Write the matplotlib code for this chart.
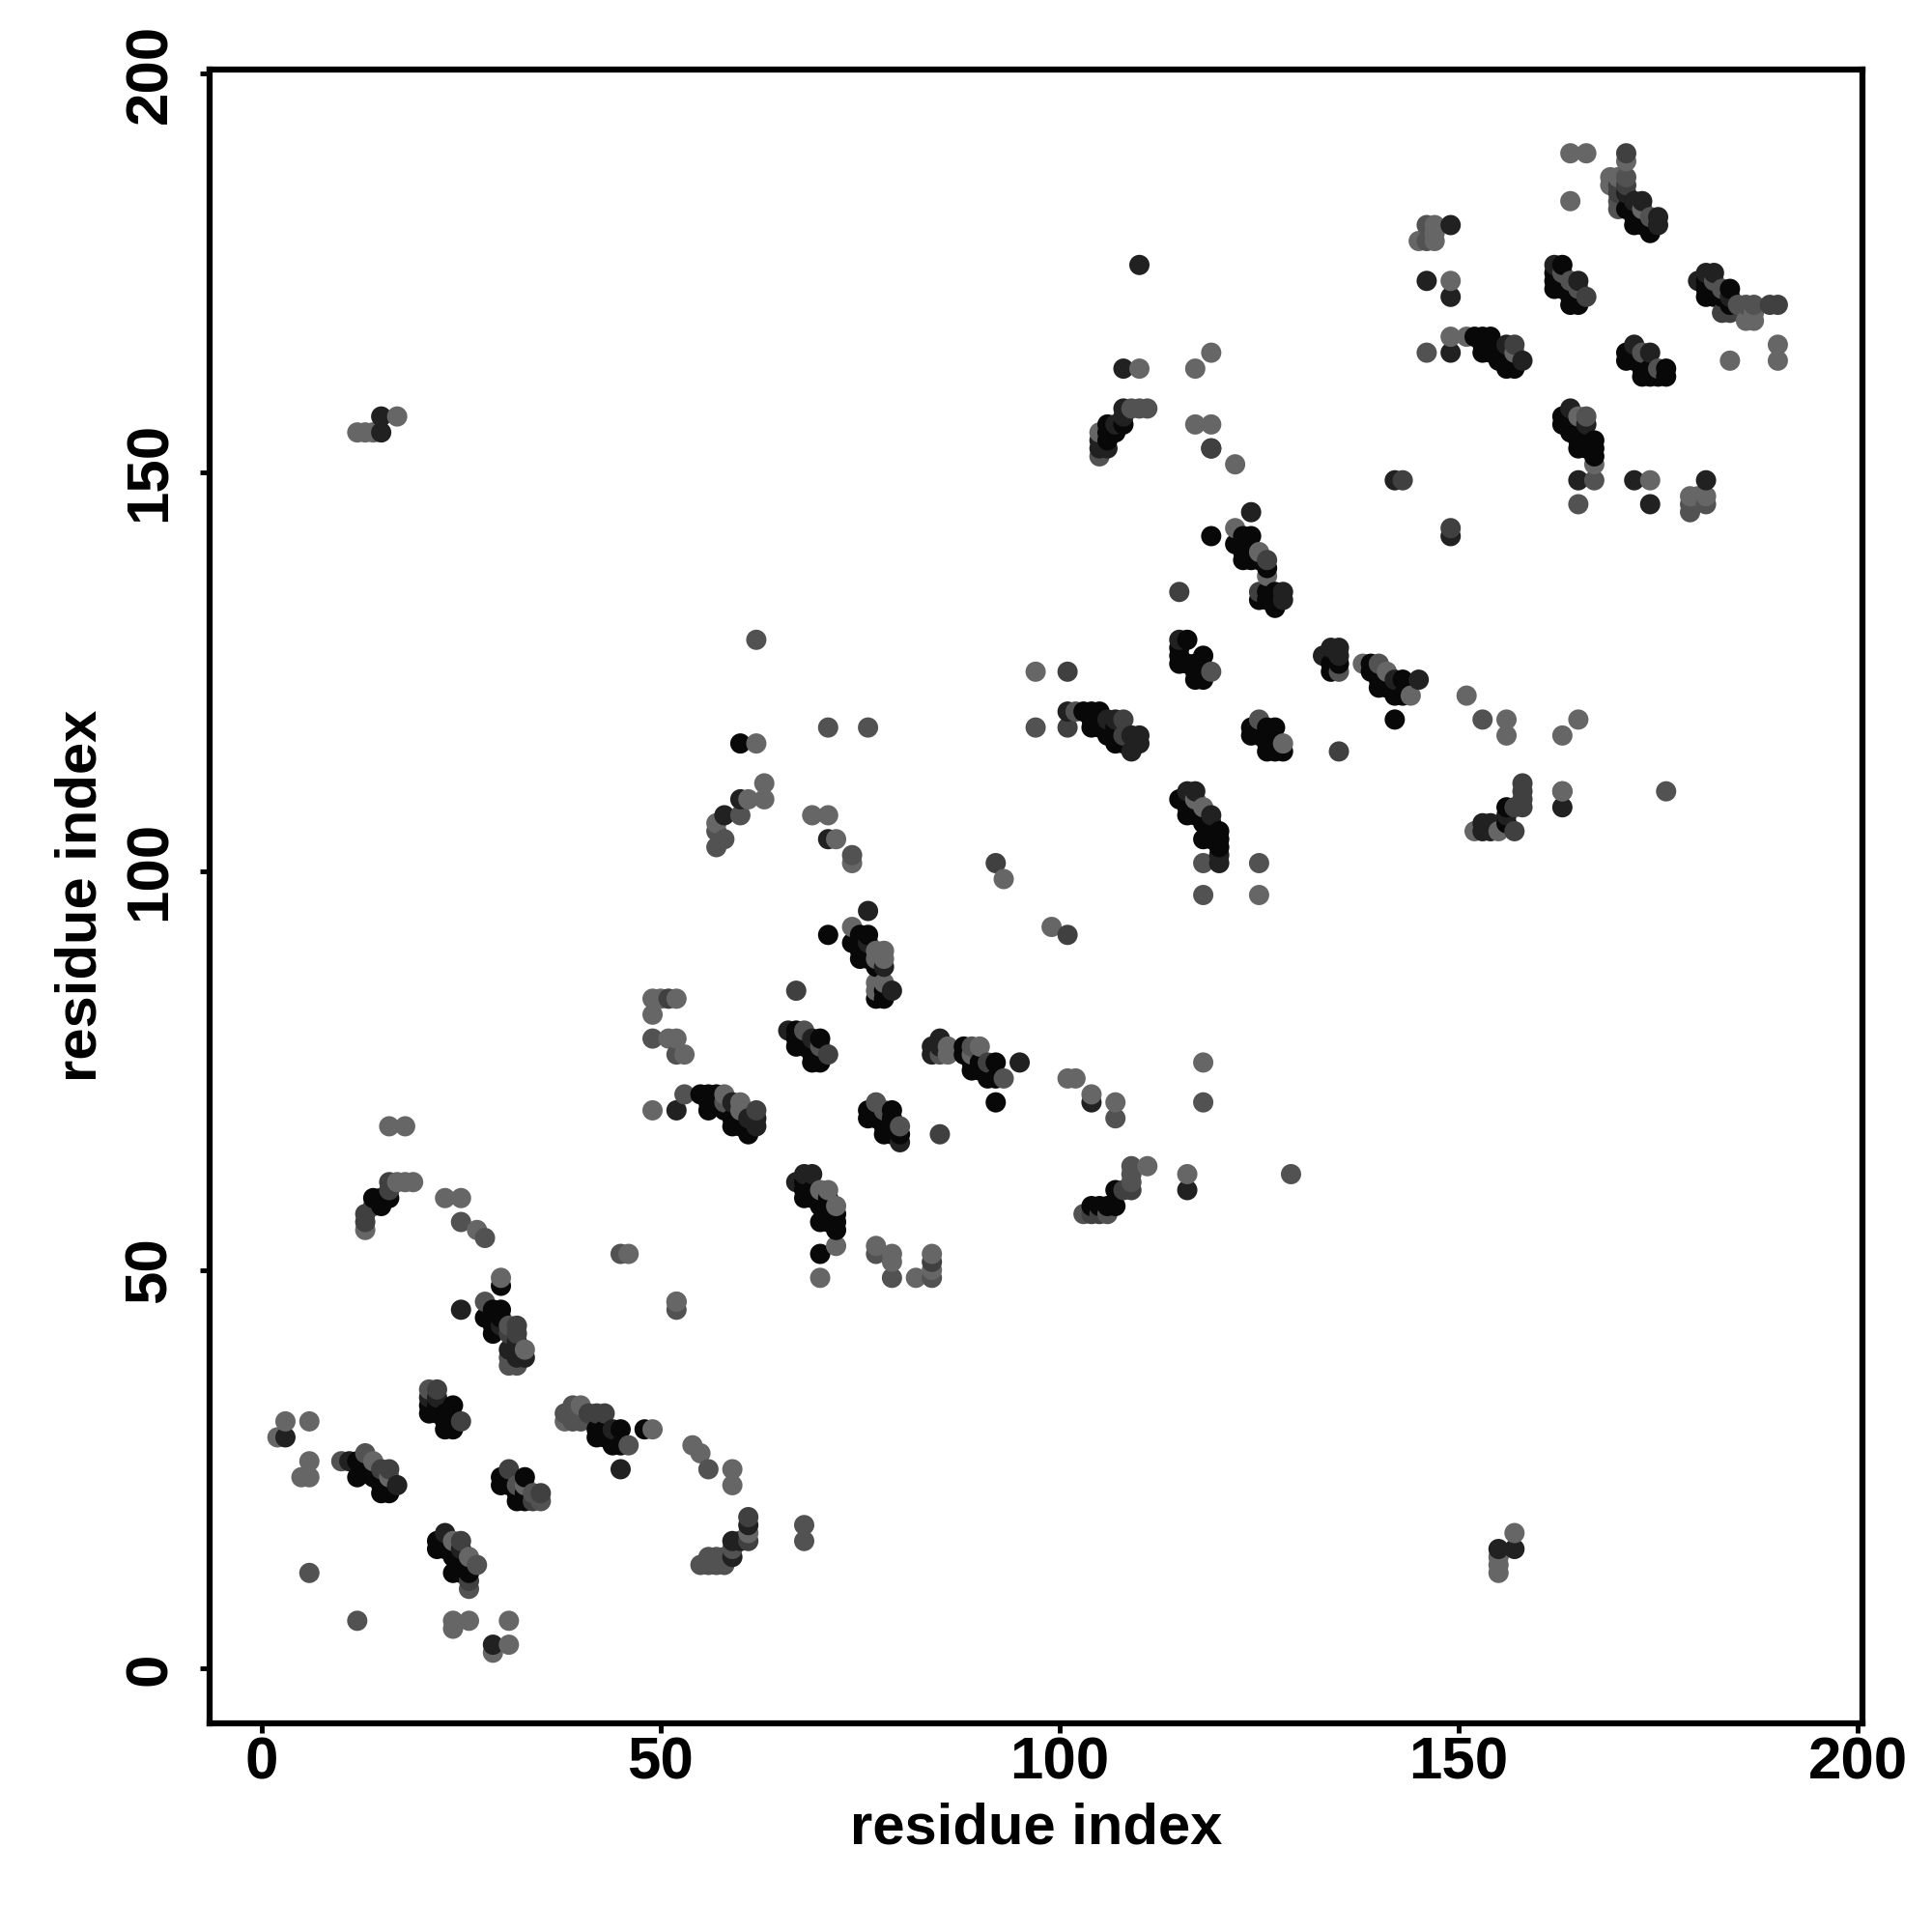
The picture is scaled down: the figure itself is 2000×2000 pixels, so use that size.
import numpy as np
import matplotlib
matplotlib.use("Agg")
import matplotlib.pyplot as plt

plt.rcParams['font.family'] = ['Liberation Sans', 'DejaVu Sans']

# contacts, (residue, residue), one list per grey level
black = [(12,26),(12,24),(13,25),(14,24),(15,23),(15,22),(16,22),(14,25),
         (21,33),(21,32),(22,32),(24,33),(23,31),(23,30),(24,30),(22,33),(23,32),
         (30,48),(30,45),(29,45),(28,44),(29,44),(29,43),(29,42),(30,44),
         (42,30),(42,29),(43,29),(43,30),(45,30),(44,28),(45,28),(44,29),(48,30),
         (22,16),(22,15),(23,15),(23,16),(24,14),(24,15),(24,12),(25,12),(26,12),(25,13),(25,14),
         (30,24),(30,23),(33,24),(31,23),(31,24),(32,22),(32,21),(33,21),(33,22),
         (71,92),(75,92),(76,92),(74,91),(75,91),(75,90),(75,89),(76,90),(76,89),(77,88),(77,84),(78,84),(78,85),
         (67,80),(67,79),(70,79),(67,78),(68,79),(68,78),(69,77),(70,77),(69,76),(70,76),
         (88,77),(89,76),(90,76),(89,75),(90,75),(92,76),(91,74),(92,74),(88,78),(92,71),(70,52),
         (55,72),(56,72),(57,72),(57,71),(56,71),(56,70),(58,70),(59,69),(59,68),(60,69),(60,68),(61,68),(61,67),
         (76,70),(76,69),(77,70),(77,69),(79,70),(78,69),(79,69),(78,68),(79,68),(78,67),(79,67),(80,67),
         (68,61),(68,60),(68,59),(69,59),(69,60),(70,59),(70,58),(71,59),(70,56),(71,57),(71,58),(72,57),(72,56),(72,55),(71,56),
         (14,59),(15,59),(16,59),(15,58),
         (104,58),(106,58),(107,58),(107,60),(105,58),
         (106,154),(106,156),(106,155),(108,156),(107,155),
         (119,142),(123,142),(124,142),(122,141),(123,141),(123,140),(124,140),(123,139),(124,139),(125,139),(126,138),
         (125,134),(126,135),(127,135),(127,134),(127,133),(126,134),
         (116,129),(115,128),(115,127),(115,126),(116,126),(118,127),(117,126),(117,124),(118,124),(117,125),(118,125),
         (103,120),(104,120),(105,120),(104,119),(105,119),(104,118),(107,116),(107,117),(108,116),(105,118),(106,117),(107,118),
         (134,126),(134,125),(135,126),(139,126),(139,125),(140,124),(140,123),(141,124),(143,124),(142,122),(143,122),(141,123),(142,119),
         (124,118),(124,117),(127,118),(126,118),(126,117),(125,117),(126,116),(126,115),(127,115),(128,115),(127,116),
         (115,109),(116,109),(116,108),(116,107),(117,107),(117,108),(118,106),(118,104),(119,105),(120,105),(119,104),(120,104),(120,103),(119,106),
         (156,106),(156,108),
         (171,183),(172,183),(172,182),(172,181),(173,182),(173,181),(174,181),(174,180),(173,183),
         (162,175),(162,174),(162,173),(163,176),(163,174),(163,173),(164,173),(164,172),(165,172),(164,171),(165,171),
         (181,174),(181,173),(181,172),(182,173),(182,172),(183,172),(184,173),(184,171),
         (152,167),(153,167),(154,167),(153,166),(154,166),(153,165),(154,165),(155,165),(155,164),(156,164),(156,163),(157,163),
         (171,165),(171,164),(172,165),(172,164),(173,164),(173,163),(174,163),(173,162),(174,162),(175,162),(176,163),(176,162),
         (163,157),(163,156),(164,156),(164,155),(165,156),(165,155),(165,154),(165,153),(166,154),(166,153),(167,154),(167,153),(167,152),
         (60,116)]

dark = [(3,29),(11,26),(17,23),(21,34),(22,34),(25,45),(30,43),(32,41),(32,39),(31,40),(33,39),(45,25),(44,30),
        (23,17),(25,15),(29,3),(59,14),(59,16),(60,16),(61,18),
        (76,95),(76,91),(78,88),(79,85),(66,80),(69,79),(84,78),(84,77),(85,79),(85,78),(95,76),(104,71),
        (52,70),(59,71),(62,69),(62,68),(61,69),(80,66),(68,62),(69,62),(67,61),
        (105,154),(105,153),(106,153),(107,156),(108,163),(108,157),(108,158),(110,176),
        (124,145),(128,135),(128,134),(115,129),(101,120),(106,119),(107,119),(110,117),(110,116),(109,115),(109,117),
        (133,127),(134,128),(135,128),(135,127),(142,124),(145,124),
        (116,110),(117,110),(119,107),(120,101),(120,102),(153,106),(153,105),(154,106),(154,105),(156,107),(163,108),
        (142,149),(149,142),(171,185),(172,184),(173,184),(175,182),(175,181),(146,174),(149,181),(149,172),
        (162,176),(165,174),(180,174),(181,175),(182,175),(184,172),(149,165),(156,166),(158,164),(172,166),(174,165),
        (164,158),(166,156),(165,149),(172,149),(174,146),(181,149),(155,15),(157,15),(15,155),(15,157),(116,60),
        (71,104),(119,153),(58,107),(60,109)]

darkmid = [(15,25),(16,25),(32,43),(31,42),(32,42),(25,31),(22,35),(41,32),(42,32),(43,32),(25,16),(26,11),(31,25),(34,21),(35,22),(61,16),(61,19),
           (92,101),(101,92),(67,85),(71,77),(91,76),(85,67),(62,70),(119,153),(135,115),(115,135),(143,149),(149,143),
           (105,57),(104,57),(109,60),(108,60),(84,51),(51,84),(14,58),(13,57),(13,56),(16,60),(16,61),
           (170,186),(171,186),(171,190),(170,185),(166,172),(157,166),(183,170),(184,170),(189,171),(190,171),(125,135),(126,139),
           (158,108),(158,109),(158,110),(158,111),(157,108),(101,125),(101,118),(108,117),(108,119),(157,105)]

mid = [(10,26),(13,27),(21,35),(56,25),(12,6),(6,12),(38,32),(39,33),(39,32),(39,31),(40,31),(31,43),(31,39),(31,38),(32,38),(35,21),(34,22),(27,13),
       (55,13),(56,13),(57,13),(58,13),(56,14),(57,14),(58,14),(59,15),(52,45),(26,10),(32,23),(28,46),
       (49,79),(52,77),(53,72),(46,28),(45,52),(52,46),(74,102),(77,52),(79,49),(84,49),(68,18),(68,16),(77,71),(78,70),(80,68),
       (70,78),(68,80),(58,71),(89,78),(85,77),(93,74),(107,69),(103,57),(106,57),(109,61),(109,62),(109,63),
       (57,103),(57,105),(58,104),(60,107),(62,129),(71,118),(76,118),(25,56),(28,54),
       (105,152),(109,158),(110,158),(111,158),(119,125),(117,109),(102,120),(125,119),(97,118),(118,101),(118,97),(125,101),(153,119),
       (140,126),(135,125),(146,181),(146,179),(146,165),(171,187),(170,184),(170,183),(174,182),(163,175),(164,174),(165,173),(182,174),(183,173),(185,171),(186,171),(187,171),
       (173,165),(175,163),(166,157),(167,149),(165,146),(179,146),(181,146),(179,145),(176,110),(129,62),(118,71),(163,110)]

light = [(3,31),(6,31),(2,29),(6,26),(5,24),(6,24),(14,26),(16,24),(30,49),(33,40),(40,33),(38,31),(49,30),(54,28),(55,27),(59,25),(59,23),
         (24,16),(26,14),(24,6),(24,5),(26,6),(31,6),(29,2),(31,3),(52,46),(33,23),(61,17),
         (72,104),(74,101),(93,99),(99,93),(74,93),(77,90),(78,90),(77,89),(78,89),(77,86),(78,86),(77,85),
         (49,84),(50,84),(52,84),(49,82),(51,79),(52,79),(53,77),(86,78),(86,77),(89,77),(90,78),(101,74),(102,74),(104,72),(107,71),
         (49,70),(58,72),(60,71),(60,70),(70,60),(71,60),(72,58),(72,53),(70,49),(77,53),(79,52),(79,51),(82,49),(84,52),(84,50),(46,52),(111,63),
         (13,55),(17,61),(18,61),(19,61),(16,68),(18,68),(12,155),(13,155),(14,155),(17,157),(23,59),(25,59),(27,55),
         (57,106),(61,109),(63,109),(63,111),(62,116),(69,107),(71,107),(105,155),(110,163),(117,163),(119,165),(117,156),(119,156),(122,151),
         (122,143),(125,140),(126,137),(97,125),(138,126),(141,125),(144,122),(128,116),(116,62),(118,76),(125,97),(151,122),(156,119),(156,117),(163,117),(165,119),
         (117,109),(118,108),(152,105),(155,105),(163,110),
         (164,190),(166,190),(171,189),(169,187),(170,187),(169,186),(164,184),(173,183),(147,181),(147,180),(145,179),(147,179),(149,174),(149,167),(151,167),
         (165,157),(167,151),(174,149),(179,147),(180,147),(181,147),(186,169),(187,169),(187,170),(190,166),(190,164),(184,164),(157,165),(155,12),(155,13),(155,14),(157,17)]

shade_points = [black, dark, darkmid, mid, light]
shade_grey = [0.03, 0.13, 0.25, 0.32, 0.40]
tick_vals = [0, 50, 100, 150, 200]

xs, ys, greys = [], [], []
for pts, g in zip(shade_points, shade_grey):
    for a, b in pts:
        xs.append(a)
        ys.append(b)
        greys.append(g)
xs, ys, greys = np.array(xs), np.array(ys), np.array(greys)

# points go down in residue order, so later residues cover earlier ones
order = np.lexsort((ys, xs))

fig = plt.figure(figsize=(20, 20), dpi=100)
ax = fig.add_axes([217/2000, 1 - 1783.5/2000, (1928-217)/2000, (1783.5-72)/2000])
ax.scatter(xs[order], ys[order], s=228, c=[str(g) for g in greys[order]], linewidths=0, zorder=3)

ax.set_xlim(-6.5, 200.6)
ax.set_ylim(-6.8, 200.5)
ax.set_xticks(tick_vals)
ax.set_yticks(tick_vals)
for s in ax.spines.values():
    s.set_linewidth(4.5)
ax.tick_params(length=7, width=3.5, labelsize=44.5, pad=3)
ax.tick_params(axis='y', pad=16)
for t in ax.get_xticklabels() + ax.get_yticklabels():
    t.set_fontweight('bold')
for t in ax.get_yticklabels():
    t.set_rotation(90)
    t.set_va('center')
ax.set_xlabel('residue index', fontsize=43, fontweight='bold', labelpad=8)
ax.set_ylabel('residue index', fontsize=43, fontweight='bold', labelpad=12)

fig.savefig('out.png', dpi=100)
